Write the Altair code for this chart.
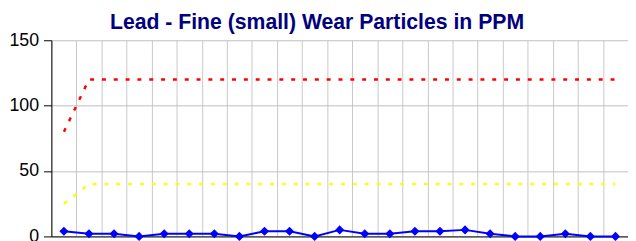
import altair as alt
import pandas as pd

samples = [str(i) for i in range(1, 24)]
lead = [4, 2, 2, 0, 2, 2, 2, 0, 4, 4, 0, 5, 2, 2, 4, 4, 5, 2, 0, 0, 2, 0, 0]
upper_limit = [80, 120, 120, 120, 120, 120, 120, 120, 120, 120, 120, 120,
               120, 120, 120, 120, 120, 120, 120, 120, 120, 120, 120]
lower_limit = [25, 40, 40, 40, 40, 40, 40, 40, 40, 40, 40, 40,
               40, 40, 40, 40, 40, 40, 40, 40, 40, 40, 40]
y_ticks = [0, 50, 100, 150]

df = pd.DataFrame({"sample": samples, "lead": lead,
                   "upper": upper_limit, "lower": lower_limit})

x_enc = alt.X("sample:N", sort=samples,
              scale=alt.Scale(type="band", paddingInner=0, paddingOuter=0),
              axis=alt.Axis(labels=False, ticks=False, title=None, grid=True,
                            tickBand="extent", gridColor="#c8c8c8",
                            domain=True, domainColor="#000000"))

def y_enc(field):
    return alt.Y(f"{field}:Q", scale=alt.Scale(domain=[0, 150], nice=False),
                 axis=alt.Axis(values=y_ticks, title=None, grid=True,
                               gridColor="#c0c0c0", tickColor="#000000",
                               tickSize=8, domainColor="#000000",
                               labelFont="Liberation Sans, Arial, sans-serif",
                               labelFontSize=18, labelColor="#000000",
                               labelPadding=5))

base = alt.Chart(df)

upper = base.mark_line(color="#ff0000", strokeWidth=2.5, strokeDash=[4, 8]).encode(
    x=x_enc, y=y_enc("upper"))
lower = base.mark_line(color="#ffff00", strokeWidth=2.5, strokeDash=[4, 8]).encode(
    x=x_enc, y=y_enc("lower"))
blue = base.mark_line(color="#0000ff", strokeWidth=2,
                      point=alt.OverlayMarkDef(shape="diamond", size=85,
                                               filled=True, color="#0000ff", opacity=1)).encode(
    x=x_enc, y=y_enc("lead"))

chart = alt.layer(upper, lower, blue).properties(
    width=585, height=199,
    padding={"top": 2, "left": 0, "right": 0, "bottom": 0},
    title=alt.TitleParams("Lead - Fine (small) Wear Particles in PPM",
                          font="Liberation Sans, Arial, sans-serif",
                          fontSize=21.5, fontWeight="bold", color="#000080",
                          anchor="middle", baseline="alphabetic", offset=-19, dx=-23),
).configure_view(stroke=None).configure_axis(domainWidth=1)

chart.save("out.html", embed_options={"renderer": "svg", "actions": False})
